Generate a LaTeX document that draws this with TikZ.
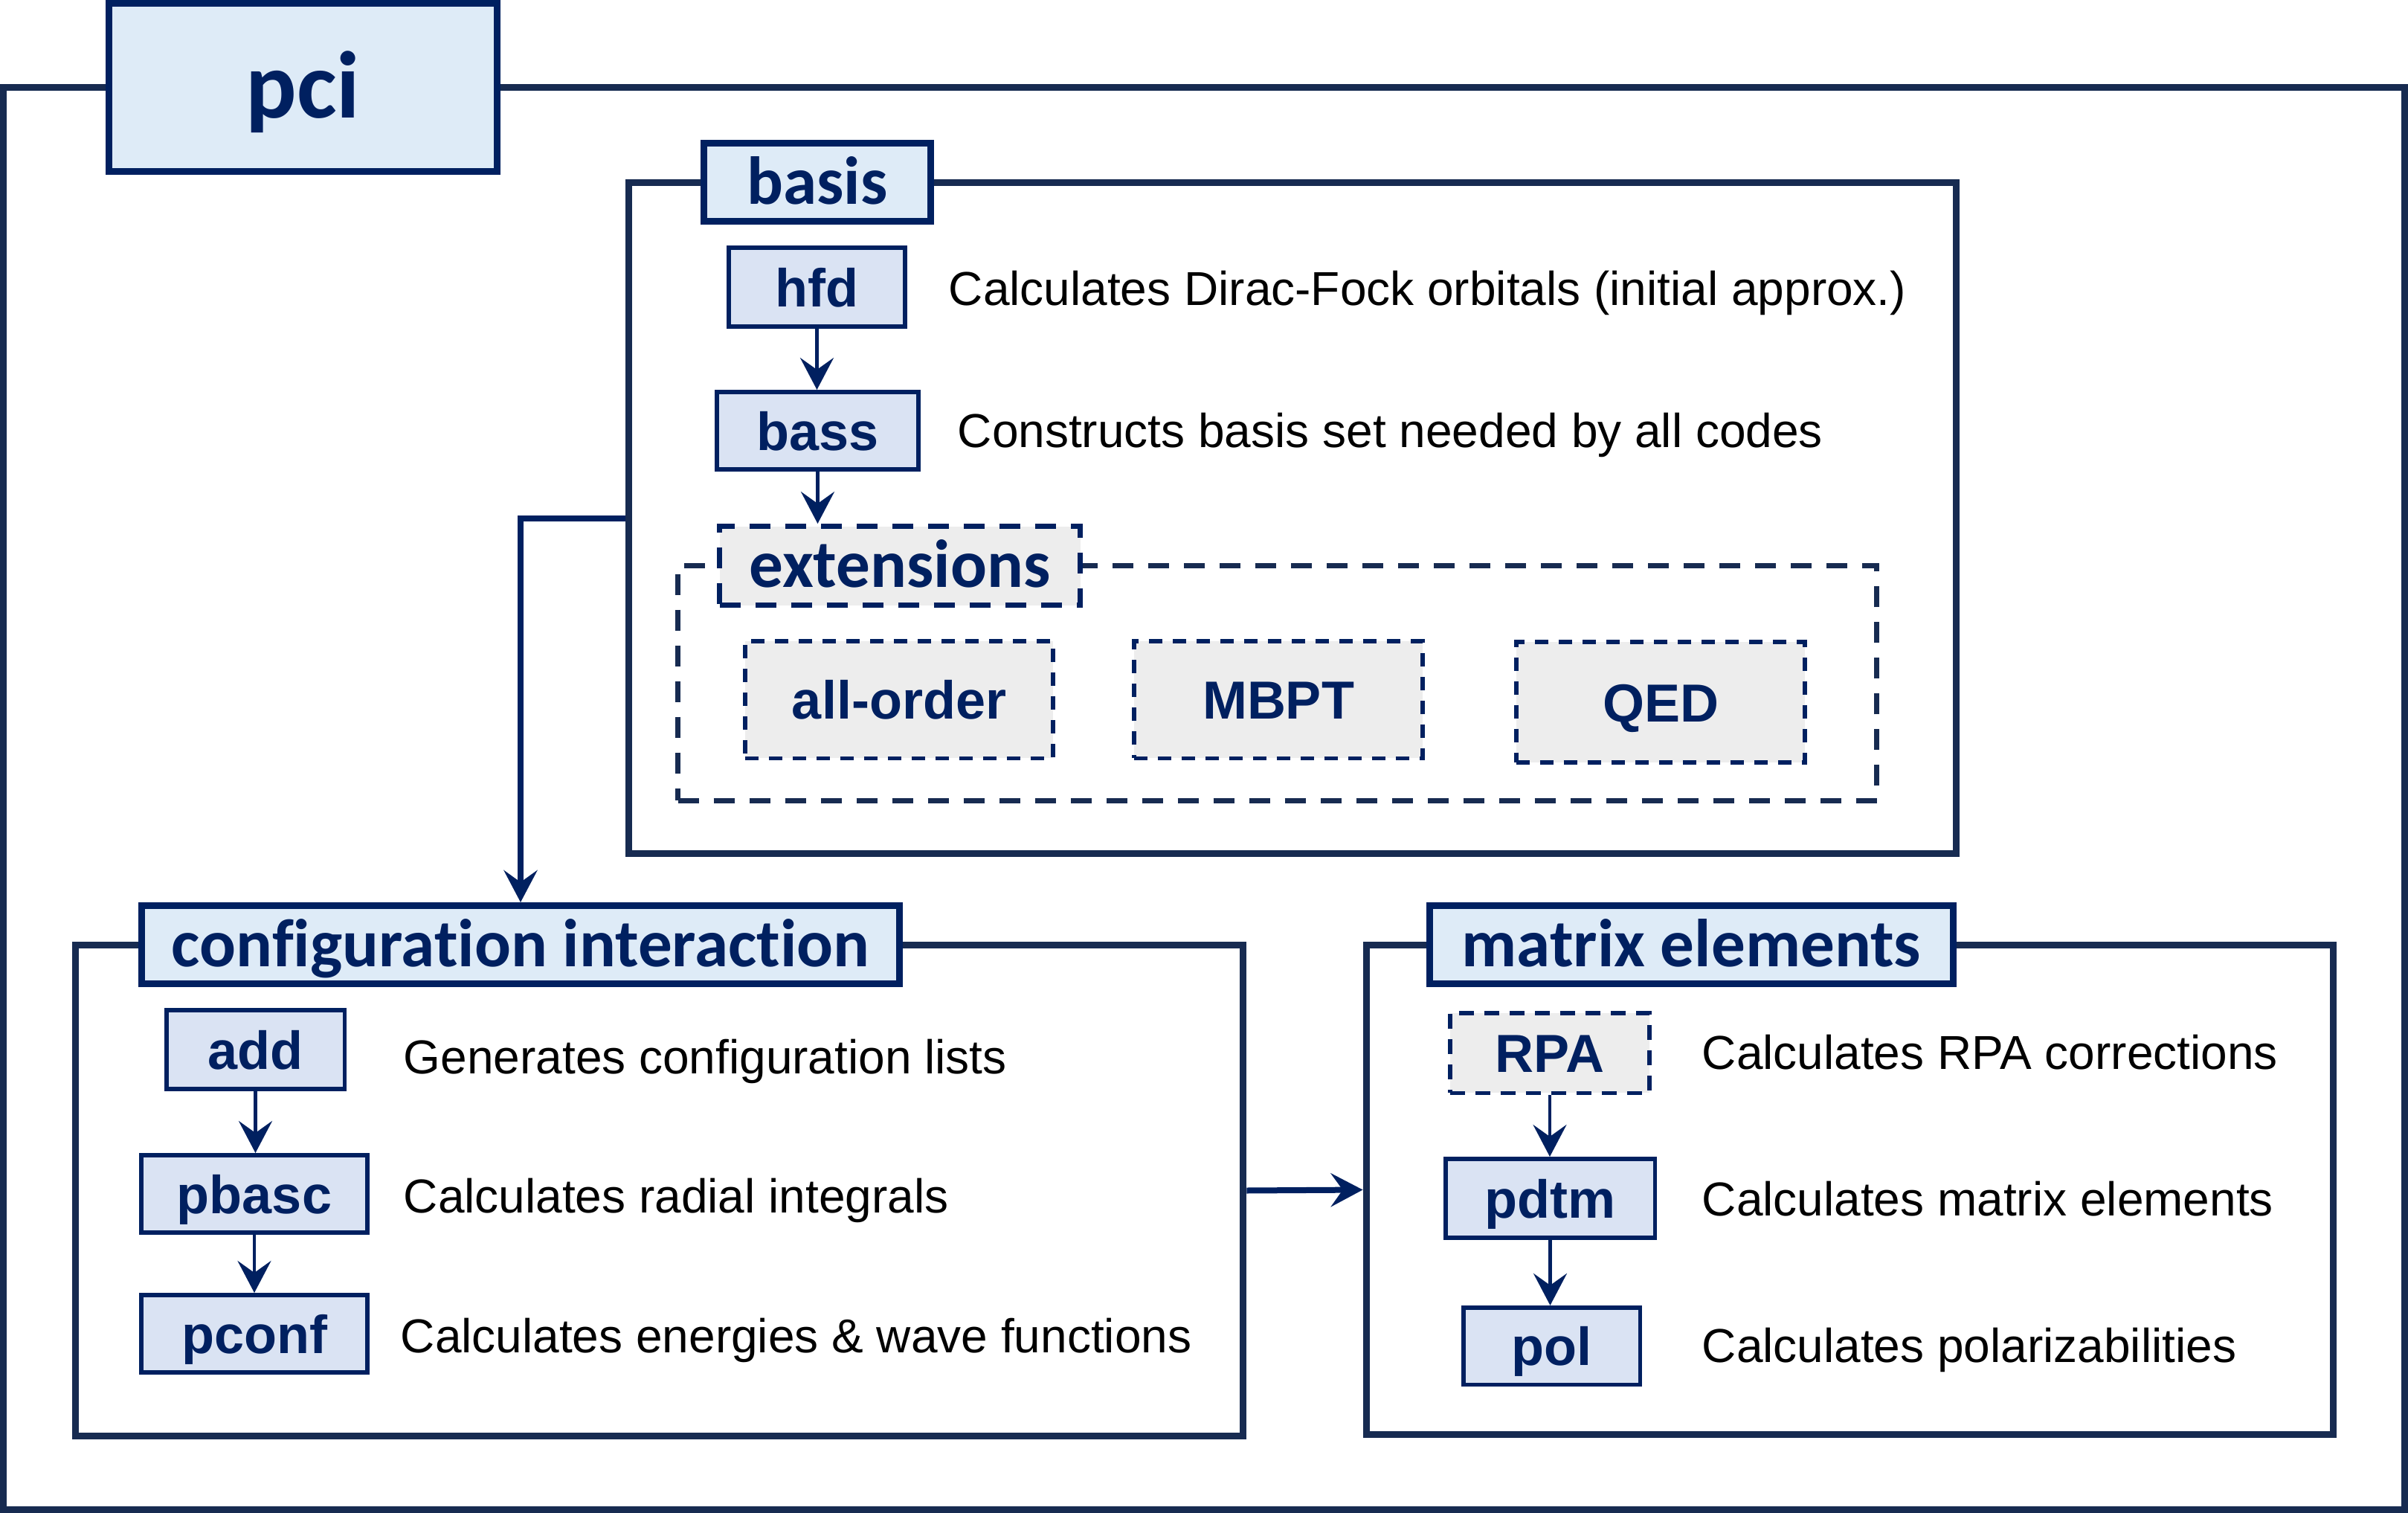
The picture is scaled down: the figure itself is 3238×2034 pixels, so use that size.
\documentclass[tikz,border=0pt]{standalone}
\usepackage{fontspec}
\setmainfont{Liberation Sans}
\newfontfamily\headfont{Carlito}[Ligatures=NoCommon]
\usetikzlibrary{arrows.meta}
\definecolor{navy}{HTML}{002060}
\definecolor{framecol}{HTML}{172B51}
\definecolor{lblue}{HTML}{DEEBF7}
\definecolor{sblue}{HTML}{DAE3F3}
\definecolor{lgray}{HTML}{EDEDED}
\begin{document}
\begin{tikzpicture}[x=0.25pt,y=-0.25pt,
  frame/.style={draw=framecol, line width=2.25pt, inner sep=0pt},
  extframe/.style={draw=framecol, line width=1.75pt, dash pattern=on 7pt off 5pt, inner sep=0pt},
  headlabel/.style={draw=navy, fill=lblue, line width=2.25pt, inner sep=0pt, text=navy,
    font=\headfont\bfseries\fontsize{22.8}{27}\selectfont, text height=14.7pt, text depth=0pt},
  extlabel/.style={draw=navy, fill=lgray, line width=1.75pt, dash pattern=on 7pt off 5pt, inner sep=0pt, text=navy,
    font=\headfont\bfseries\fontsize{22.8}{27}\selectfont, text height=14.7pt, text depth=0pt},
  prog/.style={draw=navy, fill=sblue, line width=1.4pt, inner sep=0pt, text=navy,
    font=\bfseries\fontsize{18}{21}\selectfont, text height=13pt, text depth=0pt},
  optbox/.style={draw=navy, fill=lgray, line width=1.4pt, dash pattern=on 4.5pt off 3.5pt, inner sep=0pt, text=navy,
    font=\bfseries\fontsize{18}{21}\selectfont, text height=13pt, text depth=0pt},
  desc/.style={anchor=west, inner sep=0pt, font=\fontsize{16}{19}\selectfont, text height=11.4pt, text depth=0pt},
  arr/.style={draw=navy, line width=1.1pt, -{Stealth[length=10.75pt,width=11.25pt,inset=4pt]}},
  bigarr/.style={arr, line width=2pt}
]
\useasboundingbox (0,0) rectangle (3238,2034);

% frames
\node[frame, minimum width=807.25pt, minimum height=478pt] (outer) at (1619,1073.5) {};
\node[frame, minimum width=446.25pt, minimum height=225.5pt] (basisF) at (1738,696.5) {};
\node[extframe, minimum width=403pt, minimum height=79.1pt] (extF) at (1717.5,918.25) {};
\node[frame, minimum width=392.6pt, minimum height=165pt] (cfgF) at (886.75,1600.5) {};
\node[frame, minimum width=325.1pt, minimum height=164.5pt] (meF) at (2487.25,1599.5) {};

% frame labels
\node[headlabel, minimum width=130.5pt, minimum height=56.5pt,
  font=\headfont\bfseries\fontsize{32}{38}\selectfont, text height=20.6pt] (pci) at (407.5,117.5) {pci};
\node[headlabel, minimum width=76.25pt, minimum height=26.25pt] (basis) at (1099,245) {basis};
\node[extlabel, minimum width=121.25pt, minimum height=26.5pt] (extL) at (1210,760.5) {extensions};
\node[headlabel, minimum width=254.75pt, minimum height=26.25pt] (cfg) at (700,1270) {configuration interaction};
\node[headlabel, minimum width=176pt, minimum height=26.25pt] (me) at (2274.5,1270) {matrix elements};

% basis programs
\node[prog, minimum width=59.25pt, minimum height=26.5pt] (hfd) at (1098.5,386) {hfd};
\node[prog, minimum width=67.75pt, minimum height=26.1pt] (bass) at (1099.5,579) {bass};
\node[optbox, minimum width=103.6pt, minimum height=39.4pt] (allorder) at (1209,940.5) {all-order};
\node[optbox, minimum width=97.1pt, minimum height=39.4pt] (mbpt) at (1719,940.5) {MBPT};
\node[optbox, minimum width=97.1pt, minimum height=40.6pt] (qed) at (2233,944) {QED};

% configuration interaction programs
\node[prog, minimum width=59.9pt, minimum height=26.6pt] (add) at (343.5,1411) {add};
\node[prog, minimum width=76.1pt, minimum height=26.1pt] (pbasc) at (342,1605) {pbasc};
\node[prog, minimum width=76.1pt, minimum height=26.1pt] (pconf) at (342,1793) {pconf};

% matrix element programs
\node[optbox, minimum width=67.1pt, minimum height=26.9pt, dash pattern=on 5pt off 3.5pt] (rpa) at (2084,1415.5) {RPA};
\node[prog, minimum width=70.4pt, minimum height=26.6pt] (pdtm) at (2084.5,1611) {pdtm};
\node[prog, minimum width=59.4pt, minimum height=25.9pt] (pol) at (2086.5,1809.5) {pol};

% descriptions
\node[desc] (dhfd) at (1275,388) {Calculates Dirac-Fock orbitals (initial approx.)};
\node[desc] (dbass) at (1287,579) {Constructs basis set needed by all codes};
\node[desc] (dadd) at (542,1421) {Generates configuration lists};
\node[desc] (dpbasc) at (542,1608) {Calculates radial integrals};
\node[desc] (dpconf) at (538,1796) {Calculates energies \& wave functions};
\node[desc] (drpa) at (2288,1414.5) {Calculates RPA corrections};
\node[desc] (dpdtm) at (2288,1611.5) {Calculates matrix elements};
\node[desc] (dpol) at (2288,1809) {Calculates polarizabilities};

% connectors
\draw[arr] (hfd.south) -- (hfd.south |- bass.north);
\draw[arr] (bass.south) -- (bass.south |- extL.north);
\draw[arr] (add.south) -- (add.south |- pbasc.north);
\draw[arr] (pbasc.south) -- (pbasc.south |- pconf.north);
\draw[arr] (rpa.south) -- (rpa.south |- pdtm.north);
\draw[arr] (pdtm.south) -- (pdtm.south |- pol.north);
\draw[bigarr] (basisF.west) -| (cfg.north);
\draw[bigarr] (cfgF.east) -- (meF.west);
\end{tikzpicture}
\end{document}
